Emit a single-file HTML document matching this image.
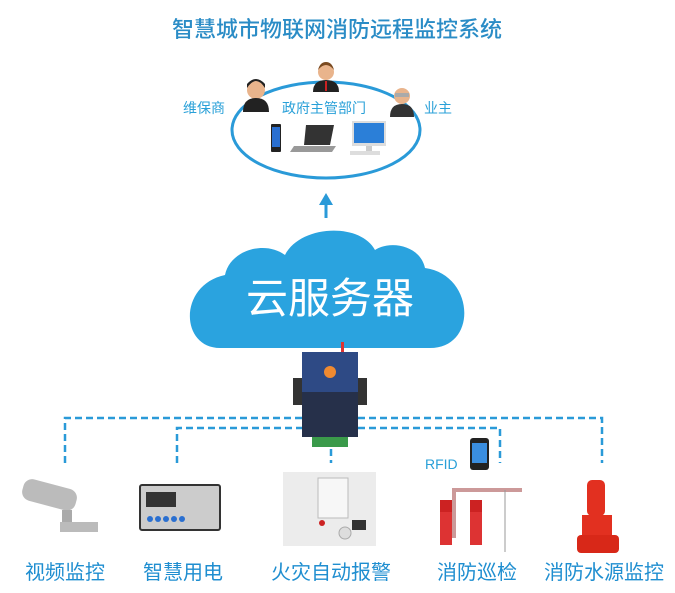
<!DOCTYPE html>
<html><head><meta charset="utf-8"><style>
html,body{margin:0;padding:0;background:#fff;width:675px;height:593px;overflow:hidden}
svg{display:block}
text{font-family:"Liberation Sans","Noto Sans CJK SC",sans-serif}
</style></head><body>
<svg width="675" height="593" viewBox="0 0 675 593" xmlns="http://www.w3.org/2000/svg">
<text x="337" y="37" text-anchor="middle" font-size="22" fill="#2a8cc6" font-weight="500">智慧城市物联网消防远程监控系统</text>
<ellipse cx="326" cy="130" rx="94" ry="48" fill="none" stroke="#2a9ad8" stroke-width="3"/>
<g>
<circle cx="256" cy="90" r="9" fill="#e9b48c"/><path d="M247 88 q9 -14 18 0 v-4 q-9 -10 -18 0z" fill="#222"/>
<path d="M243 112 q0 -14 13 -14 q13 0 13 14z" fill="#222"/>
<circle cx="326" cy="72" r="8" fill="#e9b48c"/><path d="M318 70 q8 -10 16 0 q-2 -8 -8 -8 q-6 0 -8 8z" fill="#7a4a20"/>
<path d="M313 92 q0 -12 13 -12 q13 0 13 12z" fill="#222"/><rect x="325" y="81" width="2" height="10" fill="#c22"/>
<circle cx="402" cy="96" r="8" fill="#e9b48c"/><rect x="395" y="93" width="14" height="4" fill="#aaa"/>
<path d="M390 117 q0 -13 12 -13 q12 0 12 13z" fill="#333"/>
</g>
<text x="204" y="113" text-anchor="middle" font-size="14" fill="#29a0d8">维保商</text>
<text x="324" y="113" text-anchor="middle" font-size="14" fill="#29a0d8">政府主管部门</text>
<text x="438" y="113" text-anchor="middle" font-size="14" fill="#29a0d8">业主</text>
<rect x="271" y="124" width="10" height="28" rx="1" fill="#222"/><rect x="272" y="127" width="8" height="20" fill="#2a6fd0"/>
<path d="M306 125 h28 l-4 20 h-26z" fill="#333"/><path d="M294 146 h42 l-4 6 h-42z" fill="#999"/>
<rect x="352" y="121" width="34" height="25" fill="#ddd"/><rect x="354" y="123" width="30" height="20" fill="#2b7fd8"/><rect x="366" y="146" width="6" height="5" fill="#ccc"/><rect x="350" y="151" width="30" height="4" fill="#ddd"/>
<line x1="326" y1="218" x2="326" y2="204" stroke="#2a9ad8" stroke-width="3"/>
<polygon points="326,193 319,205 333,205" fill="#2a9ad8"/>
<path d="M220 348 C180 348 178 285 225 275 C230 250 265 240 285 255 C300 225 360 222 375 250 C390 240 420 245 425 268 C475 275 478 348 430 348 Z" fill="#2aa3df"/>
<text x="330" y="313" text-anchor="middle" font-size="42" fill="#fff">云服务器</text>
<g fill="none" stroke="#2a9ad8" stroke-width="2.5" stroke-dasharray="7,4">
<path d="M65 463 V418 H302"/><path d="M358 418 H602 V463"/>
<path d="M177 463 V428 H302"/><path d="M358 428 H500 V463"/>
<path d="M331 449 V463"/>
</g>
<rect x="341" y="342" width="3" height="10" fill="#d33"/>
<rect x="293" y="378" width="74" height="27" fill="#333"/>
<rect x="302" y="352" width="56" height="85" fill="#26304a"/>
<rect x="302" y="352" width="56" height="40" fill="#2e4a85"/>
<circle cx="330" cy="372" r="6" fill="#f08a30"/>
<rect x="312" y="437" width="36" height="10" fill="#3a9a4a"/>
<rect x="22" y="484" width="55" height="22" rx="9" fill="#bbb" transform="rotate(15 50 495)"/>
<rect x="62" y="510" width="10" height="18" fill="#aaa"/><rect x="60" y="522" width="38" height="10" fill="#bbb"/>
<rect x="140" y="485" width="80" height="45" rx="2" fill="#ccc" stroke="#333" stroke-width="2"/>
<rect x="146" y="492" width="30" height="15" fill="#333"/>
<g fill="#2a6fd0"><circle cx="150" cy="519" r="3"/><circle cx="158" cy="519" r="3"/><circle cx="166" cy="519" r="3"/><circle cx="174" cy="519" r="3"/><circle cx="182" cy="519" r="3"/></g>
<rect x="283" y="472" width="93" height="74" fill="#ececec"/>
<rect x="318" y="478" width="30" height="40" fill="#f7f7f7" stroke="#bbb"/>
<circle cx="345" cy="533" r="6" fill="#ddd" stroke="#aaa"/><rect x="352" y="520" width="14" height="10" fill="#333"/><circle cx="322" cy="523" r="3" fill="#c22"/>
<text x="425" y="469" font-size="14" fill="#29a0d8">RFID</text>
<rect x="470" y="438" width="19" height="32" rx="3" fill="#222"/><rect x="472" y="443" width="15" height="20" fill="#3a8ee0"/>
<rect x="452" y="488" width="70" height="4" fill="#c99"/><rect x="452" y="488" width="4" height="50" fill="#c99"/>
<line x1="505" y1="490" x2="505" y2="552" stroke="#999"/>
<rect x="440" y="500" width="12" height="45" fill="#d33"/><rect x="470" y="500" width="12" height="45" fill="#d33"/>
<rect x="440" y="500" width="12" height="12" fill="#c22"/><rect x="470" y="500" width="12" height="12" fill="#c22"/>
<rect x="587" y="480" width="18" height="36" rx="5" fill="#e23020"/>
<rect x="582" y="515" width="30" height="25" fill="#e23020"/><rect x="577" y="535" width="42" height="18" rx="4" fill="#d82818"/>
<g font-size="20" fill="#1f8ed0" text-anchor="middle">
<text x="65" y="579">视频监控</text>
<text x="183" y="579">智慧用电</text>
<text x="331" y="579">火灾自动报警</text>
<text x="477" y="579">消防巡检</text>
<text x="604" y="579">消防水源监控</text>
</g>
</svg>
</body></html>
